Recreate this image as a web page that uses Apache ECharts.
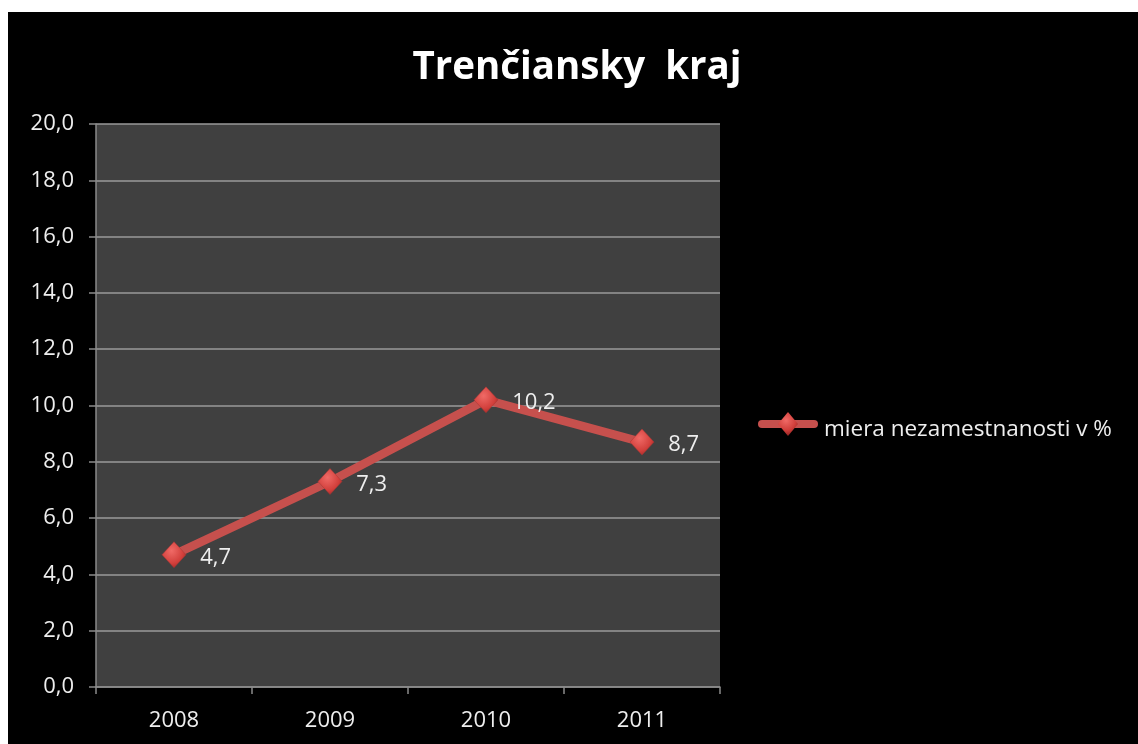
<!DOCTYPE html>
<html>
<head>
<meta charset="utf-8">
<script src="https://cdn.jsdelivr.net/npm/echarts@6/dist/echarts.min.js"></script>
<style>
html,body{margin:0;padding:0;background:#ffffff;}
#bg{position:absolute;left:8px;top:12px;width:1130px;height:732px;background:#000;}
#chart{width:1138px;height:744px;position:absolute;left:0;top:0;}
</style>
</head>
<body>
<div id="bg"></div>
<div id="chart"></div>
<script>
const categories = ['2008', '2009', '2010', '2011'];
const seriesName = 'miera nezamestnanosti v %';
const values = [4.7, 7.3, 10.2, 8.7];
const titleText = 'Trenčiansky  kraj';

const fmt = v => v.toFixed(1).replace('.', ',');
const chart = echarts.init(document.getElementById('chart'), null, {renderer: 'canvas'});
const diamond = {
  type: 'radial', x: 0.4, y: 0.35, r: 0.8,
  colorStops: [{offset: 0, color: '#f06a66'}, {offset: 0.6, color: '#d13f3b'}, {offset: 1, color: '#8e2020'}]
};
const txt = '#eeeeee';
chart.setOption({
  backgroundColor: 'transparent',
  animation: false,
  title: {
    text: titleText, left: 572, textAlign: 'center', top: 44,
    textStyle: {color: '#ffffff', fontFamily: 'Open Sans', fontWeight: 'bold', fontSize: 38.5}
  },
  legend: {
    left: 758, top: 411, orient: 'vertical',
    itemWidth: 58, itemHeight: 26, itemGap: 0,
    icon: 'rect',
    itemStyle: {opacity: 0},
    lineStyle: {opacity: 0},
    textStyle: {color: txt, fontFamily: 'Open Sans', fontSize: 22.5, padding: [0, 0, 0, -3]},
    data: [seriesName]
  },
  grid: {left: 96, right: 418, top: 124, bottom: 57, show: true, backgroundColor: '#404040', borderWidth: 0},
  xAxis: {
    type: 'category', data: categories, boundaryGap: true,
    axisLine: {lineStyle: {color: '#8a8a8a', width: 1.5}},
    axisTick: {show: true, length: 7, lineStyle: {color: '#8a8a8a', width: 1.5}},
    axisLabel: {color: txt, fontFamily: 'Open Sans', fontSize: 22, margin: 23}
  },
  yAxis: {
    type: 'value', min: 0, max: 20, interval: 2,
    axisLine: {show: true, lineStyle: {color: '#8a8a8a', width: 1.5}},
    axisTick: {show: true, length: 7, lineStyle: {color: '#8a8a8a', width: 1.5}},
    splitLine: {lineStyle: {color: '#9a9a9a', width: 1.5}},
    axisLabel: {color: txt, fontFamily: 'Open Sans', fontSize: 22, margin: 22, formatter: fmt}
  },
  series: [{
    name: seriesName, type: 'line', data: values,
    lineStyle: {color: '#c6504d', width: 8.5},
    itemStyle: {color: diamond, borderColor: '#a83532', borderWidth: 0.5},
    symbol: 'diamond', symbolSize: [24, 26],
    label: {show: true, position: 'right', distance: 14, offset: [0, 3], color: txt,
      fontFamily: 'Open Sans', fontSize: 22, formatter: p => fmt(p.value)},
    z: 3
  }],
  graphic: [
    {type: 'line', z: 10, shape: {x1: 762, y1: 424, x2: 814, y2: 424},
      style: {stroke: '#c6504d', lineWidth: 8, lineCap: 'round'}},
    {type: 'polygon', z: 11, shape: {points: [[788, 412], [798, 424], [788, 436], [778, 424]]},
      style: {fill: diamond}}
  ]
});
</script>
</body>
</html>
